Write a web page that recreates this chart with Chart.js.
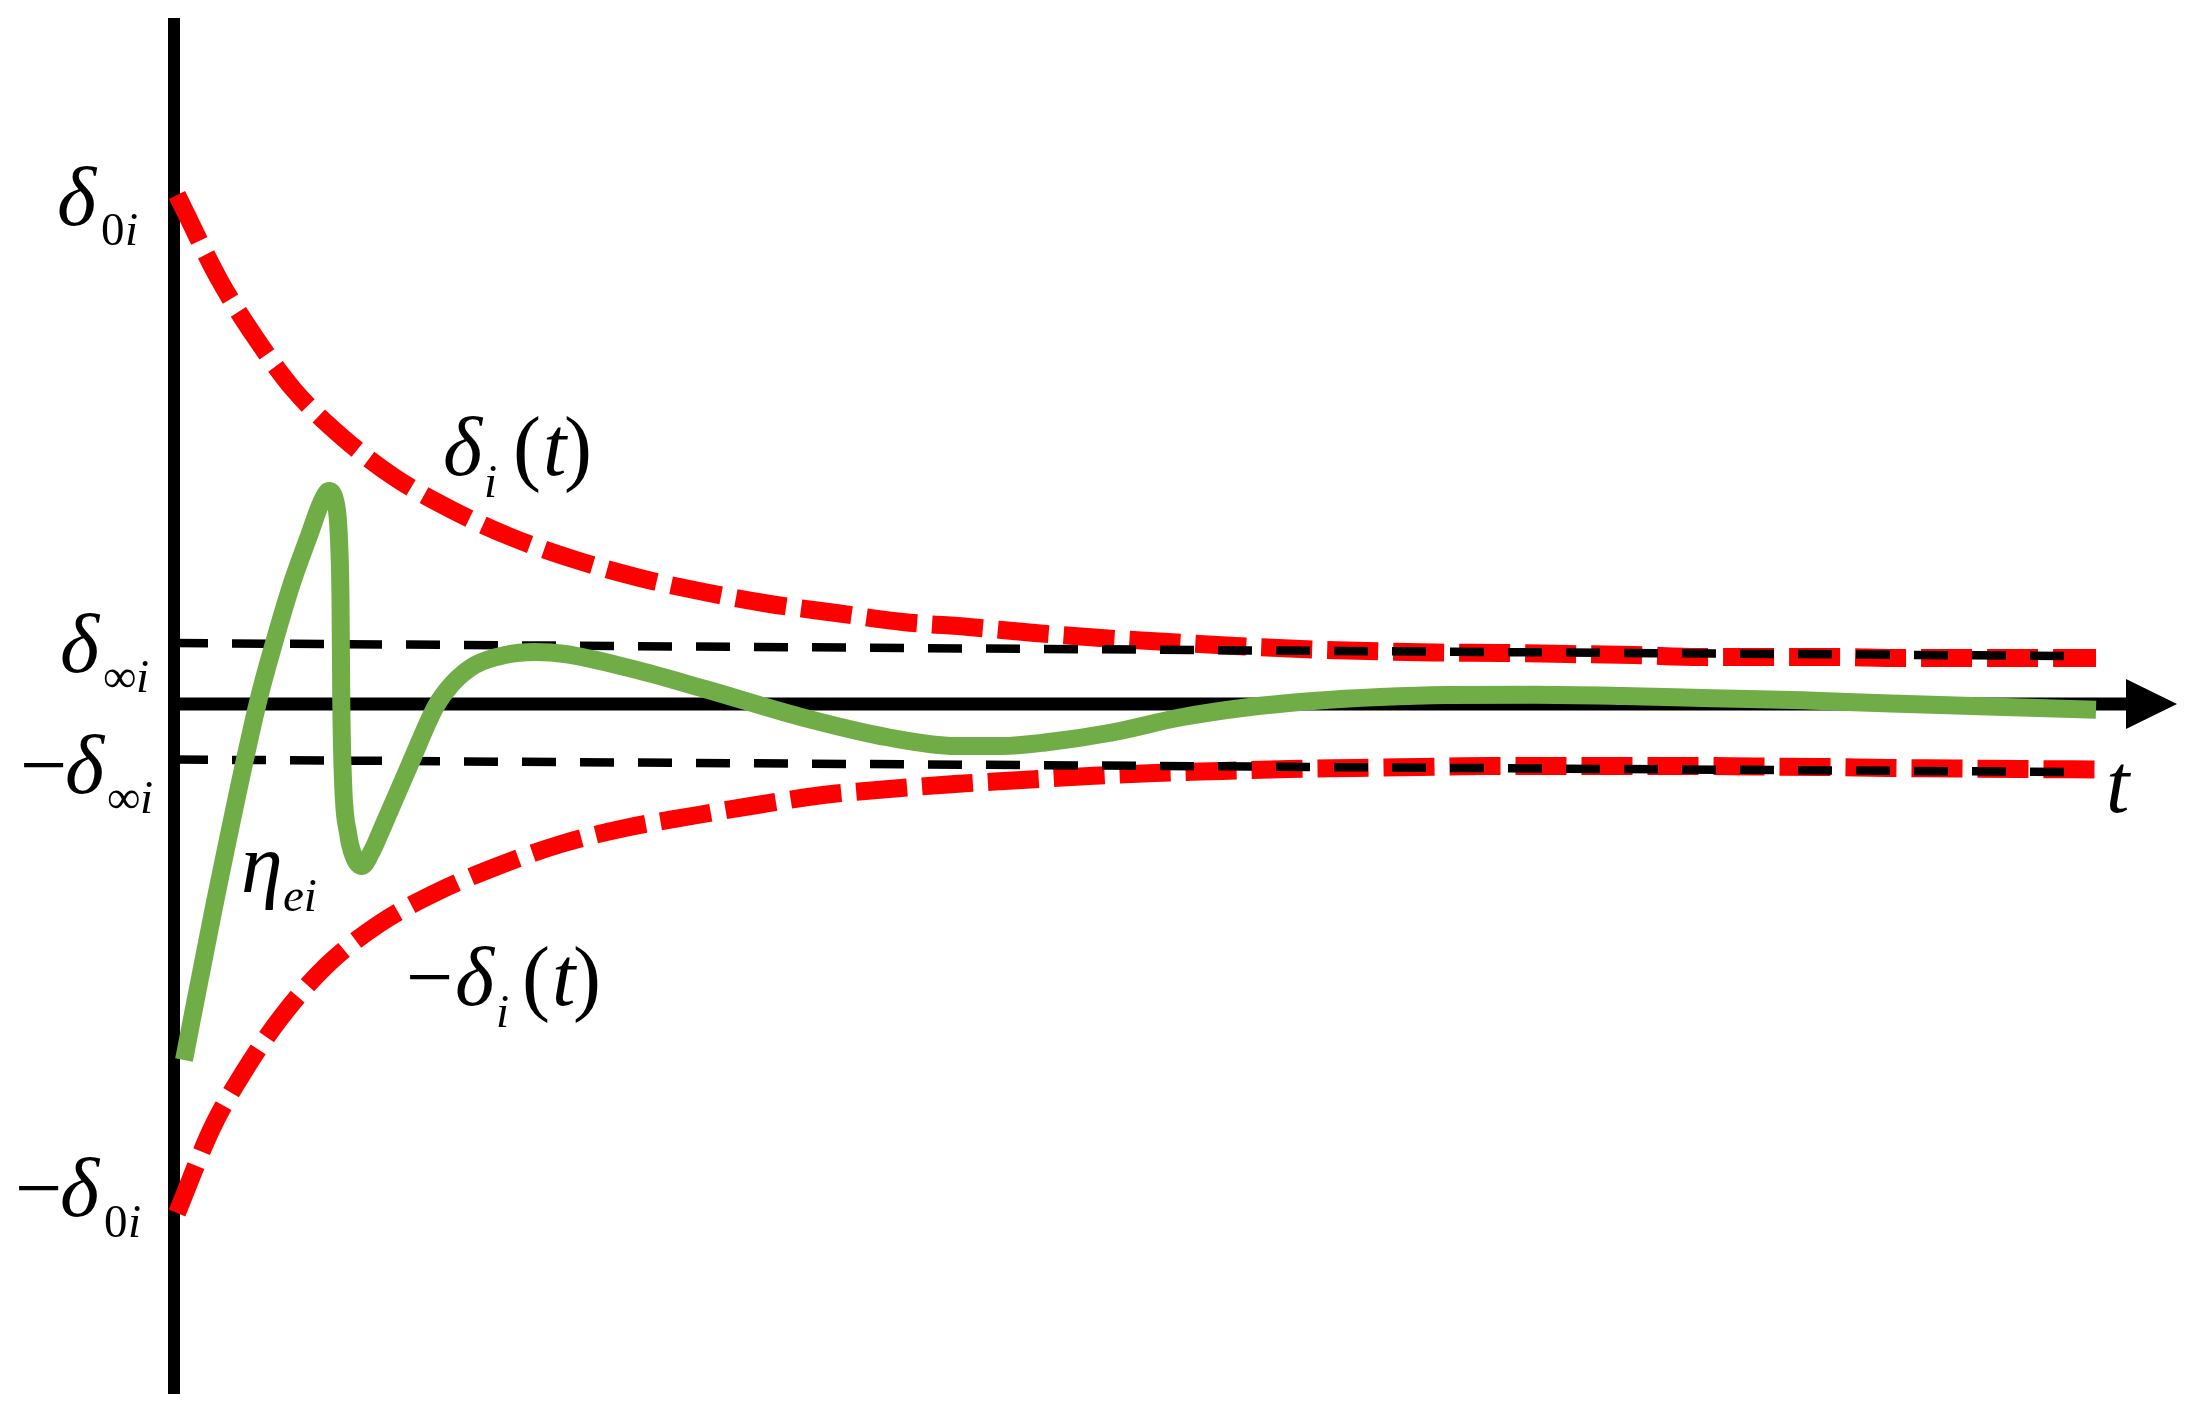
<!DOCTYPE html>
<html>
<head>
<meta charset="utf-8">
<script src="https://cdn.jsdelivr.net/npm/chart.js@4.4.1/dist/chart.umd.min.js"></script>
<style>
    html, body { margin: 0; padding: 0; background: #fff; }
    canvas { display: block; }
</style>
</head>
<body>
<canvas id="myChart" width="2190" height="1425"></canvas>
<script>
// values (t along the axis, error on the vertical)
const upperT = [0.03, 0.46, 0.81, 1.20, 1.68, 2.20, 2.78, 3.38, 4.02, 4.66, 5.30, 5.96, 6.62, 7.29, 7.95, 8.61, 9.27, 9.94, 10.61, 11.27, 11.93, 12.60, 13.27, 13.93, 14.60, 15.26, 15.93, 16.60, 17.26, 17.93, 18.60, 19.22];
const upperY = [5.09, 4.23, 3.67, 3.14, 2.67, 2.27, 1.94, 1.665, 1.44, 1.26, 1.12, 1.00, 0.91, 0.82, 0.77, 0.71, 0.66, 0.62, 0.58, 0.55, 0.53, 0.515, 0.51, 0.50, 0.49, 0.47, 0.47, 0.47, 0.46, 0.46, 0.46, 0.46];

const lowerT = [0.03, 0.385, 0.70, 1.065, 1.525, 2.05, 2.64, 3.24, 3.87, 4.51, 5.18, 5.83, 6.49, 7.15, 7.81, 8.48, 9.15, 9.81, 10.48, 11.15, 11.82, 12.47, 13.14, 13.81, 14.48, 15.15, 15.80, 16.48, 17.14, 17.81, 18.47, 19.22];
const lowerY = [-5.09, -4.23, -3.675, -3.14, -2.615, -2.20, -1.875, -1.62, -1.40, -1.24, -1.12, -1.01, -0.91, -0.85, -0.80, -0.76, -0.72, -0.69, -0.67, -0.65, -0.64, -0.63, -0.62, -0.62, -0.62, -0.62, -0.625, -0.63, -0.64, -0.645, -0.65, -0.655];

const infT = [0, 19.0];
const infUpperY = [0.61, 0.48];
const infLowerY = [-0.555, -0.68];

const etaT = [0.10, 0.40, 0.84, 1.00, 1.18, 1.36, 1.47, 1.55, 1.61, 1.65, 1.665, 1.673, 1.69, 1.74, 1.80, 1.88, 1.97, 2.10, 2.36, 2.62, 2.78, 3.01, 3.31, 3.61, 3.91, 4.59, 5.31, 6.26, 7.15, 7.82, 8.27, 8.71, 9.38, 10.06, 10.72, 11.39, 12.06, 12.73, 13.60, 14.49, 15.38, 16.28, 17.17, 18.06, 19.22];
const etaY = [-3.56, -2.03, 0.02, 0.61, 1.21, 1.71, 2.01, 2.13, 2.04, 1.64, 1.04, 0.01, -0.76, -1.29, -1.53, -1.62, -1.49, -1.20, -0.60, -0.02, 0.20, 0.39, 0.49, 0.52, 0.50, 0.35, 0.15, -0.127, -0.335, -0.42, -0.42, -0.385, -0.285, -0.135, -0.035, 0.03, 0.07, 0.09, 0.093, 0.08, 0.057, 0.037, 0.005, -0.023, -0.057];

const T_MAX = 20.03;
const Y_MIN = -6.90;
const Y_MAX = 6.86;

const pts = (xs, ys) => xs.map((v, i) => ({ x: v, y: ys[i] }));

const serif = '"Liberation Serif", serif';
const fMain = 'italic 84px ' + serif;
const fUp = '84px ' + serif;
const fSub = '47px ' + serif;
const fSubIt = 'italic 47px ' + serif;

// axis lines and arrow head, placed with the chart's scales
const axesPlugin = {
    id: 'axes',
    beforeDatasetsDraw(chart) {
        const { ctx, scales: { x, y } } = chart;
        const x0 = x.getPixelForValue(0);
        const y0 = y.getPixelForValue(0);
        const tip = x.getPixelForValue(T_MAX);
        ctx.save();
        ctx.strokeStyle = '#000';
        ctx.fillStyle = '#000';
        ctx.lineCap = 'butt';
        ctx.lineWidth = 12;
        ctx.beginPath();
        ctx.moveTo(x0, y.getPixelForValue(Y_MAX));
        ctx.lineTo(x0, y.getPixelForValue(Y_MIN));
        ctx.stroke();

        ctx.lineWidth = 13;
        ctx.beginPath();
        ctx.moveTo(x0, y0);
        ctx.lineTo(tip - 48, y0);
        ctx.stroke();

        ctx.beginPath();
        ctx.moveTo(tip, y0);
        ctx.lineTo(tip - 51, y0 - 25);
        ctx.lineTo(tip - 51, y0 + 25);
        ctx.closePath();
        ctx.fill();
        ctx.restore();
    }
};

// math labels
const labelPlugin = {
    id: 'labels',
    afterDatasetsDraw(chart) {
        const { ctx } = chart;
        const put = (txt, font, px, py) => {
            ctx.font = font;
            ctx.fillText(txt, px, py);
        };
        ctx.save();
        ctx.fillStyle = '#000';
        ctx.textBaseline = 'alphabetic';
        ctx.textAlign = 'left';

        // delta_0i
        put('δ', fMain, 57, 225);
        put('0', fSub, 101, 245);
        put('i', fSubIt, 125, 245);

        // delta_inf i
        put('δ', fMain, 60, 672);
        put('∞', fSub, 103, 692);
        put('i', fSubIt, 136, 692);

        // -delta_inf i
        put('−', fUp, 20, 793);
        put('δ', fMain, 65, 793);
        put('∞', fSub, 107, 813);
        put('i', fSubIt, 140, 813);

        // -delta_0i
        put('−', fUp, 15, 1216);
        put('δ', fMain, 60, 1216);
        put('0', fSub, 104, 1237);
        put('i', fSubIt, 128, 1237);

        // delta_i(t)
        put('δ', fMain, 443, 475);
        put('i', fSubIt, 484, 497);
        put('(', fUp, 513, 475);
        put('t', fMain, 543, 475);
        put(')', fUp, 564, 475);

        // -delta_i(t)
        put('−', fUp, 406, 1005);
        put('δ', fMain, 455, 1005);
        put('i', fSubIt, 496, 1027);
        put('(', fUp, 522, 1005);
        put('t', fMain, 552, 1005);
        put(')', fUp, 573, 1005);

        // eta_ei
        put('η', fMain, 241, 892);
        put('ei', fSubIt, 283, 911);

        // t
        put('t', fMain, 2106, 812);
        ctx.restore();
    }
};

const ctx = document.getElementById('myChart').getContext('2d');
const chart = new Chart(ctx, {
    type: 'line',
    data: {
        datasets: [
            {
                label: 'eta_ei',
                data: pts(etaT, etaY),
                borderColor: '#70AD47',
                borderWidth: 18,
                cubicInterpolationMode: 'monotone',
                pointRadius: 0,
                clip: false
            },
            {
                label: 'delta_inf',
                data: pts(infT, infUpperY),
                borderColor: '#000',
                borderWidth: 8.5,
                borderDash: [34, 24],
                tension: 0,
                pointRadius: 0,
                clip: false
            },
            {
                label: '-delta_inf',
                data: pts(infT, infLowerY),
                borderColor: '#000',
                borderWidth: 8.5,
                borderDash: [34, 24],
                tension: 0,
                pointRadius: 0,
                clip: false
            },
            {
                label: 'delta_i(t)',
                data: pts(upperT, upperY),
                borderColor: '#FF0000',
                borderWidth: 18,
                borderDash: [51, 15],
                cubicInterpolationMode: 'monotone',
                pointRadius: 0,
                clip: false
            },
            {
                label: '-delta_i(t)',
                data: pts(lowerT, lowerY),
                borderColor: '#FF0000',
                borderWidth: 18,
                borderDash: [51, 15],
                cubicInterpolationMode: 'monotone',
                pointRadius: 0,
                clip: false
            }
        ]
    },
    options: {
        responsive: false,
        animation: false,
        events: [],
        layout: {
            padding: { left: 174, right: 13, top: 18, bottom: 31 }
        },
        scales: {
            x: { type: 'linear', min: 0, max: T_MAX, display: false },
            y: { type: 'linear', min: Y_MIN, max: Y_MAX, display: false }
        },
        plugins: {
            legend: { display: false },
            tooltip: { enabled: false },
            title: { display: false }
        }
    },
    plugins: [axesPlugin, labelPlugin]
});
</script>
</body>
</html>
